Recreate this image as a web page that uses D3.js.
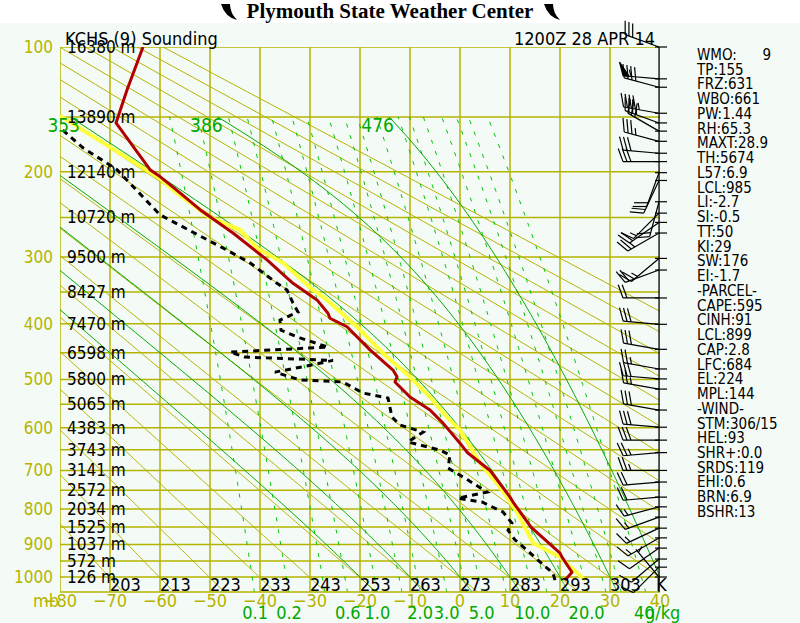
<!DOCTYPE html>
<html>
<head>
<meta charset="utf-8">
<script src="https://cdn.jsdelivr.net/npm/d3@7"></script>
<style>
  html, body { margin: 0; padding: 0; background: #ffffff; }
  svg { display: block; }
  text { font-family: "Liberation Sans Narrow", "DejaVu Sans Condensed", sans-serif; }
</style>
</head>
<body>
<div id="chart"></div>
<script>
// sounding data, KCHS 12Z 28 Apr 2014
var tempP  = [1010, 985, 938, 926, 850, 781, 768, 700, 656, 635, 590, 562, 535, 505, 495, 482, 445, 405, 391, 383, 362, 337, 304, 269, 241, 225, 216, 205, 198, 155, 129, 100];
var tempC  = [21.0, 22.4, 20.4, 20.0, 14.2, 10.6, 10.0, 6.0, 1.4, 0.0, -3.4, -6.0, -10.0, -13.0, -12.6, -13.4, -18.0, -22.6, -26.0, -26.4, -28.6, -33.4, -38.6, -45.4, -52.0, -55.4, -57.4, -60.0, -62.0, -68.8, -66.6, -63.4];

var dewP   = [1010, 988, 953, 917, 887, 859, 839, 808, 781, 771, 755, 724, 694, 663, 651, 632, 610, 594, 577, 537, 527, 505, 501, 486, 475, 464, 458, 449, 440, 424, 411, 394, 381, 367, 347, 337, 308, 291, 268, 247, 198, 177, 159];
var dewC   = [19.0, 18.6, 16.0, 13.4, 11.0, 9.6, 10.4, 8.6, 4.4, -0.4, 5.4, 1.6, -2.4, -2.0, -4.0, -10.4, -7.4, -12.0, -13.6, -14.4, -19.4, -23.4, -32.0, -37.0, -31.0, -25.4, -43.0, -46.0, -26.4, -32.0, -35.8, -36.0, -32.4, -33.4, -34.6, -36.6, -42.0, -46.6, -53.4, -60.0, -68.6, -75.4, -80.0];

var parcelP = [1010, 938, 896, 808, 742, 682, 605, 577, 535, 495, 458, 405, 362, 343, 308, 288, 265, 250, 219, 207, 149];
var parcelC = [25.0, 20.0, 14.6, 11.4, 8.0, 4.0, 0.0, -2.6, -6.0, -10.0, -14.6, -20.6, -26.6, -30.0, -35.4, -40.6, -44.0, -50.0, -57.4, -60.0, -80.0];

// winds: pressure (mb), direction (deg), speed (kt)
var windP   = [100, 121, 127, 147, 155, 162, 171, 182, 190, 201, 209, 232, 245, 256, 269, 302, 318, 359, 401, 444, 480, 499, 519, 562, 599, 628, 657, 700, 729, 768, 794, 822, 853, 881, 911, 944, 969, 1000];
var windDir = [290, 275, 285, 280, 290, 300, 285, 275, 270, 200, 205, 195, 225, 235, 240, 230, 250, 270, 275, 280, 280, 275, 280, 280, 275, 270, 265, 270, 265, 265, 255, 250, 245, 240, 235, 230, 225, 320];
var windSpd = [30, 55, 40, 45, 35, 30, 35, 30, 30, 20, 20, 20, 15, 20, 25, 25, 20, 20, 30, 30, 25, 30, 25, 30, 30, 30, 25, 25, 20, 20, 15, 15, 15, 15, 10, 10, 10, 5];

// axis labels
var pressTicks   = [100, 200, 300, 400, 500, 600, 700, 800, 900, 1000];
var heightLevels = [100, 150, 200, 250, 300, 350, 400, 450, 500, 550, 600, 650, 700, 750, 800, 850, 900, 950, 1000];
var heightLabels = ["16380 m", "13890 m", "12140 m", "10720 m", "9500 m", "8427 m", "7470 m", "6598 m", "5800 m", "5065 m", "4383 m", "3743 m", "3141 m", "2572 m", "2034 m", "1525 m", "1037 m", "572 m", "126 m"];
var tempTicks    = [-80, -70, -60, -50, -40, -30, -20, -10, 0, 10, 20, 30, 40];
var kelvinLabels = ["203", "213", "223", "233", "243", "253", "263", "273", "283", "293", "303"];
var mixRatios    = [0.1, 0.2, 0.4, 0.6, 1, 1.5, 2, 3, 4, 5, 7, 10, 12, 15, 20, 25, 30, 40];
var mixLabels    = [0.1, 0.2, 0.6, 1, 2, 3, 5, 10, 20, 40];
var moistThetaW  = [-20, -10, 0, 10, 20, 30, 40];
var moistLabels  = {20: "353", 30: "386", 40: "476"};

var indexLines = ["WMO:      9", "TP:155", "FRZ:631", "WBO:661", "PW:1.44", "RH:65.3", "MAXT:28.9", "TH:5674", "L57:6.9", "LCL:985", "LI:-2.7", "SI:-0.5", "TT:50", "KI:29", "SW:176", "EI:-1.7", "-PARCEL-", "CAPE:595", "CINH:91", "LCL:899", "CAP:2.8", "LFC:684", "EL:224", "MPL:144", "-WIND-", "STM:306/15", "HEL:93", "SHR+:0.0", "SRDS:119", "EHI:0.6", "BRN:6.9", "BSHR:13"];

var width = 800, height = 623;
var plotL = 60, plotR = 660, plotT = 47, plotB = 592;
var grid = "#b4b400", green = "#00a800", dashGreen = "#00c400";

var svg = d3.select("#chart").append("svg")
    .attr("width", width)
    .attr("height", height);

svg.append("rect").attr("x", 0).attr("y", 23).attr("width", width).attr("height", height - 23)
    .attr("fill", "#f4fbf7");

var x = d3.scaleLinear().domain([-80, 40]).range([plotL, plotR]);
var y = d3.scalePow().exponent(0.286).domain([100, 1000]).range([plotT, 577]);

svg.append("clipPath").attr("id", "plot")
  .append("rect").attr("x", plotL).attr("y", plotT).attr("width", plotR - plotL).attr("height", plotB - plotT);

var plot = svg.append("g").attr("clip-path", "url(#plot)");

// grid: vertical isotherms and isobars every 50 mb
plot.selectAll(".vline").data(tempTicks).enter().append("line")
    .attr("x1", function(d) { return x(d); }).attr("x2", function(d) { return x(d); })
    .attr("y1", plotT).attr("y2", plotB)
    .attr("stroke", grid).attr("stroke-width", 1.5);
plot.selectAll(".hline").data(heightLevels).enter().append("line")
    .attr("x1", plotL).attr("x2", plotR)
    .attr("y1", function(d) { return y(d); }).attr("y2", function(d) { return y(d); })
    .attr("stroke", grid).attr("stroke-width", 1.5);
svg.append("line").attr("x1", plotL).attr("x2", plotR).attr("y1", plotB).attr("y2", plotB)
    .attr("stroke", grid).attr("stroke-width", 1.5);

var pLevels = d3.range(1050, 99, -5);
var tline = d3.line().x(function(d) { return x(d[1]); }).y(function(d) { return y(d[0]); });

// dry adiabats
d3.range(203, 414, 10).forEach(function(theta) {
    var pts = pLevels.map(function(p) { return [p, theta * Math.pow(p / 1000, 0.286) - 273.15]; });
    plot.append("path").attr("d", tline(pts))
        .attr("fill", "none").attr("stroke", grid).attr("stroke-width", 1);
});

function satVap(tc) { return 6.112 * Math.exp(17.67 * tc / (tc + 243.5)); }

// mixing ratio lines
var mixP = d3.range(1050, 149, -10);
function dewFromMix(w, p) {
    var e = w * p / (622 + w);
    var l = Math.log(e / 6.112);
    return 243.5 * l / (17.67 - l);
}
mixRatios.forEach(function(w) {
    var pts = mixP.map(function(p) { return [p, dewFromMix(w, p)]; });
    plot.append("path").attr("d", tline(pts))
        .attr("fill", "none").attr("stroke", dashGreen).attr("stroke-width", 1)
        .attr("stroke-dasharray", "4,8");
});

// moist adiabats
function moistSlope(p, tk) {
    var es = satVap(tk - 273.15);
    var rs = 0.622 * es / (p - es);
    var lv = 2.501e6, rd = 287.04, cp = 1005.7;
    return (rd * tk + lv * rs) / (p * (cp + lv * lv * rs * 0.622 / (rd * tk * tk)));
}
function moistPath(tw) {
    var pts = [], tk = tw + 273.15, p = 1000, dp = -1;
    pts.push([p, tk - 273.15]);
    while (p > 150) {
        var k1 = moistSlope(p, tk);
        var k2 = moistSlope(p + dp, tk + dp * k1);
        tk += dp * (k1 + k2) / 2;
        p += dp;
        if (p % 5 === 0) pts.push([p, tk - 273.15]);
    }
    tk = tw + 273.15; p = 1000;
    var low = [];
    while (p < 1050) {
        var s = moistSlope(p, tk);
        tk += s; p += 1;
        low.push([p, tk - 273.15]);
    }
    return low.reverse().concat(pts);
}
moistThetaW.forEach(function(tw) {
    var pts = moistPath(tw);
    plot.append("path").attr("d", tline(pts))
        .attr("fill", "none").attr("stroke", green).attr("stroke-width", 1);
    if (moistLabels[tw]) {
        var topPt = pts[pts.length - 1];
        svg.append("text")
            .attr("x", Math.max(x(topPt[1]) + 5, 80)).attr("y", y(150) + 15)
            .attr("text-anchor", "end")
            .attr("fill", green).attr("font-size", 19)
            .text(moistLabels[tw]);
    }
});

// profiles
var parcel = parcelP.map(function(p, i) { return [p, parcelC[i]]; });
var temp = tempP.map(function(p, i) { return [p, tempC[i]]; });
var dew = dewP.map(function(p, i) { return [p, dewC[i]]; });

plot.append("path").attr("d", tline(parcel))
    .attr("fill", "none").attr("stroke", "#ffff3c").attr("stroke-width", 4);
plot.append("path").attr("d", tline(temp))
    .attr("fill", "none").attr("stroke", "#b00000").attr("stroke-width", 3)
    .attr("stroke-linejoin", "round");
plot.append("path").attr("d", tline(dew))
    .attr("fill", "none").attr("stroke", "#000").attr("stroke-width", 3)
    .attr("stroke-dasharray", "6,5");

// left labels
svg.selectAll(".plab").data(pressTicks).enter().append("text")
    .attr("x", 53).attr("y", function(d) { return y(d) + 6; })
    .attr("text-anchor", "end").attr("fill", grid).attr("font-size", 17)
    .text(function(d) { return d; });
svg.selectAll(".hlab").data(heightLevels).enter().append("text")
    .attr("x", 67).attr("y", function(d) { return y(d) + 6; })
    .attr("fill", "#000").attr("font-size", 17)
    .text(function(d, i) { return heightLabels[i]; });

// bottom labels
svg.selectAll(".klab").data(kelvinLabels).enter().append("text")
    .attr("x", function(d, i) { return x(-70 + i * 10); }).attr("y", 591)
    .attr("fill", "#000").attr("font-size", 18)
    .text(function(d) { return d; });
svg.append("text").attr("x", 656).attr("y", 591).attr("fill", "#000").attr("font-size", 18).text("K");

svg.selectAll(".clab").data(tempTicks).enter().append("text")
    .attr("x", function(d) { return x(d); }).attr("y", 607)
    .attr("text-anchor", "middle").attr("fill", grid).attr("font-size", 18)
    .text(function(d) { return d < 0 ? "\u2212" + Math.abs(d) : d; });
svg.append("text").attr("x", 33).attr("y", 607).attr("fill", grid).attr("font-size", 18).text("mb");

svg.selectAll(".wlab").data(mixLabels).enter().append("text")
    .attr("x", function(d) { return x(dewFromMix(d, 1000)) + 3; }).attr("y", 619)
    .attr("text-anchor", "middle").attr("fill", green).attr("font-size", 18)
    .text(function(d) { return d >= 40 ? d : d.toFixed(1); });
svg.append("text").attr("x", 645).attr("y", 619).attr("fill", green).attr("font-size", 18).text("g/kg");

// headers
svg.append("text").attr("x", 65).attr("y", 45).attr("font-size", 18).attr("fill", "#000").text("KCHS (9) Sounding");
svg.append("text").attr("x", 655).attr("y", 45).attr("text-anchor", "end").attr("font-size", 18).attr("fill", "#000").text("1200Z 28 APR 14");

svg.append("text").attr("x", 390).attr("y", 18).attr("text-anchor", "middle")
    .style("font-family", "'Liberation Serif', 'Times New Roman', serif").attr("font-weight", "bold").attr("font-size", 21)
    .attr("fill", "#000").text("Plymouth State Weather Center");
[221, 544].forEach(function(ix) {
    svg.append("path")
        .attr("d", "M" + ix + ",4 L" + (ix + 9) + ",4 Q" + (ix + 9) + ",13 " + (ix + 16) + ",20 Q" + (ix + 4) + ",17 " + ix + ",4 Z")
        .attr("fill", "#000");
});

// index panel
svg.selectAll(".idx").data(indexLines).enter().append("text")
    .attr("x", 697).attr("y", function(d, i) { return 60 + i * 14.74; })
    .attr("fill", "#000").attr("font-size", 15)
    .style("white-space", "pre")
    .text(function(d) { return d; });

// wind staff and barbs
var staffX = 659;
svg.append("line").attr("x1", staffX).attr("x2", staffX).attr("y1", plotT).attr("y2", plotB)
    .attr("stroke", "#000").attr("stroke-width", 1.2);
var barbs = svg.append("g").attr("stroke", "#000").attr("stroke-width", 1.2).attr("fill", "none");
windP.forEach(function(p, i) {
    var y0 = y(p);
    barbs.append("line").attr("x1", staffX - 4).attr("x2", staffX + 8).attr("y1", y0).attr("y2", y0);
    var b = windDir[i] * Math.PI / 180;
    var ux = Math.sin(b), uy = -Math.cos(b);
    var fb = b + 70 * Math.PI / 180;
    var fx = Math.sin(fb), fy = -Math.cos(fb);
    var len = 36, flen = 14;
    var ex = staffX + ux * len, ey = y0 + uy * len;
    barbs.append("line").attr("x1", staffX).attr("y1", y0).attr("x2", ex).attr("y2", ey);
    var s = Math.round(windSpd[i] / 5) * 5;
    var pos = 0;
    while (s >= 50) {
        var ax = ex - ux * pos, ay = ey - uy * pos;
        var bx = ex - ux * (pos + 6), by = ey - uy * (pos + 6);
        barbs.append("path").attr("d", "M" + ax + "," + ay + "L" + (ax + fx * flen) + "," + (ay + fy * flen) + "L" + bx + "," + by + "Z")
            .attr("fill", "#000");
        pos += 8; s -= 50;
    }
    while (s >= 10) {
        var cx = ex - ux * pos, cy = ey - uy * pos;
        barbs.append("line").attr("x1", cx).attr("y1", cy).attr("x2", cx + fx * flen).attr("y2", cy + fy * flen);
        pos += 4; s -= 10;
    }
    if (s >= 5) {
        if (pos === 0) pos = 4;
        var hx = ex - ux * pos, hy = ey - uy * pos;
        barbs.append("line").attr("x1", hx).attr("y1", hy).attr("x2", hx + fx * flen / 2).attr("y2", hy + fy * flen / 2);
    }
});
</script>
</body>
</html>
